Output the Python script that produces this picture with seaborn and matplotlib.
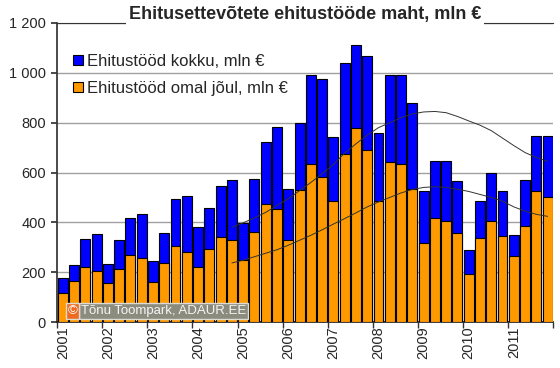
import numpy as np
import pandas as pd
import seaborn as sns
import matplotlib.pyplot as plt
from matplotlib.lines import Line2D

years = list(range(2001, 2012))

# quarterly values, mln EUR
kokku = [176, 229, 332, 355, 231, 329, 419, 432, 243, 356, 492, 505,
         380, 456, 544, 571, 396, 575, 721, 781, 534, 799, 992, 976,
         741, 1039, 1112, 1069, 759, 992, 992, 877, 525, 648, 647, 564,
         289, 484, 600, 527, 349, 569, 747, 747]
omal = [116, 164, 219, 203, 156, 213, 269, 255, 161, 235, 304, 279,
        219, 292, 343, 331, 249, 363, 475, 452, 330, 529, 636, 581,
        484, 675, 779, 689, 484, 643, 636, 535, 316, 419, 404, 359,
        193, 336, 407, 344, 263, 387, 527, 500]

# smoothed trend lines, starting from 2004 Q4
trend_start = 15
trend_kokku = [380, 398, 418, 440, 468, 495, 527, 560, 595, 632, 678, 715,
               750, 780, 800, 820, 835, 843, 845, 840, 825, 807, 790, 768,
               738, 708, 680, 660, 645]
trend_omal = [237, 248, 262, 276, 290, 308, 328, 348, 370, 393, 415, 438,
              462, 482, 500, 518, 532, 540, 543, 540, 533, 524, 512, 500,
              485, 462, 445, 432, 424]

ytick_labels = ['0', '200', '400', '600', '800', '1 000', '1 200']

quarters = [f"{y} Q{q}" for y in years for q in range(1, 5)]
df = pd.DataFrame({'kvartal': quarters, 'kokku': kokku, 'omal': omal})

sns.set_theme(style="white")
plt.rcParams['font.family'] = ['Liberation Sans', 'DejaVu Sans']

fig = plt.figure(figsize=(5.6, 3.68), dpi=100)
ax = fig.add_axes([0.102, 0.125, 0.886, 0.8125])

sns.barplot(data=df, x='kvartal', y='kokku', color='#0000ff', saturation=1,
            width=0.88, edgecolor='black', linewidth=0.8, ax=ax, zorder=2)
sns.barplot(data=df, x='kvartal', y='omal', color='#ff9900', saturation=1,
            width=0.88, edgecolor='black', linewidth=0.8, ax=ax, zorder=3)

tx = np.arange(trend_start, len(quarters))
sns.lineplot(x=tx, y=trend_kokku, color='#333333', linewidth=0.7, ax=ax, zorder=4)
sns.lineplot(x=tx, y=trend_omal, color='#333333', linewidth=0.7, ax=ax, zorder=4)

ax.set_xlim(-0.5, len(quarters) - 0.5)
ax.set_ylim(0, 1200)
ax.set_yticks(range(0, 1201, 200))
ax.set_yticklabels(ytick_labels, fontsize=10.5)
ax.set_xticks(range(0, len(quarters), 4))
ax.set_xticklabels([str(y) for y in years], rotation=90, fontsize=10.5)
ax.set_xticks(np.arange(-0.5, len(quarters), 4), minor=True)
ax.tick_params(axis='x', which='major', length=0, pad=3)
ax.tick_params(axis='x', which='minor', bottom=True, length=4, color='#333333')
ax.tick_params(axis='y', left=True, length=4, color='#333333', pad=4)
ax.set_xlabel('')
ax.set_ylabel('')

ax.set_axisbelow(True)
ax.yaxis.grid(True, color='#a0a0a0', linewidth=1)
ax.spines['right'].set_visible(False)
ax.spines['top'].set_color('#333333')
ax.spines['top'].set_linewidth(0.8)
ax.spines['left'].set_color('#333333')
ax.spines['bottom'].set_color('#222222')

ax.text(0.5, 1.0, 'Ehitusettevõtete ehitustööde maht, mln €',
        transform=ax.transAxes, ha='center', va='bottom',
        fontsize=13, fontweight='bold', zorder=6,
        bbox=dict(facecolor='white', edgecolor='none', pad=2))

handles = [Line2D([], [], marker='s', ls='none', markersize=6.5,
                  markerfacecolor=c, markeredgecolor='black', markeredgewidth=0.8)
           for c in ['#0000ff', '#ff9900']]
ax.legend(handles, ['Ehitustööd kokku, mln €', 'Ehitustööd omal jõul, mln €'],
          loc='upper left', bbox_to_anchor=(0.03, 0.897), frameon=False,
          fontsize=12, handletextpad=0.2, labelspacing=0.72,
          handlelength=0.7, borderaxespad=0, borderpad=0)

ax.text(0.048, 0.037, 'Tõnu Toompark, ADAUR.EE', transform=ax.transAxes,
        ha='left', va='center', fontsize=9.5, color='#f4f4f4', zorder=7,
        bbox=dict(facecolor='#8c8c7e', edgecolor='#dcdcd4', pad=1.5, linewidth=1))
ax.text(0.021, 0.037, '©', transform=ax.transAxes, ha='left', va='center',
        fontsize=9.5, color='white', zorder=8,
        bbox=dict(facecolor='#ee6a1e', edgecolor='#dcdcd4', pad=1.2, linewidth=1))

fig.savefig('out.png', dpi=100)
